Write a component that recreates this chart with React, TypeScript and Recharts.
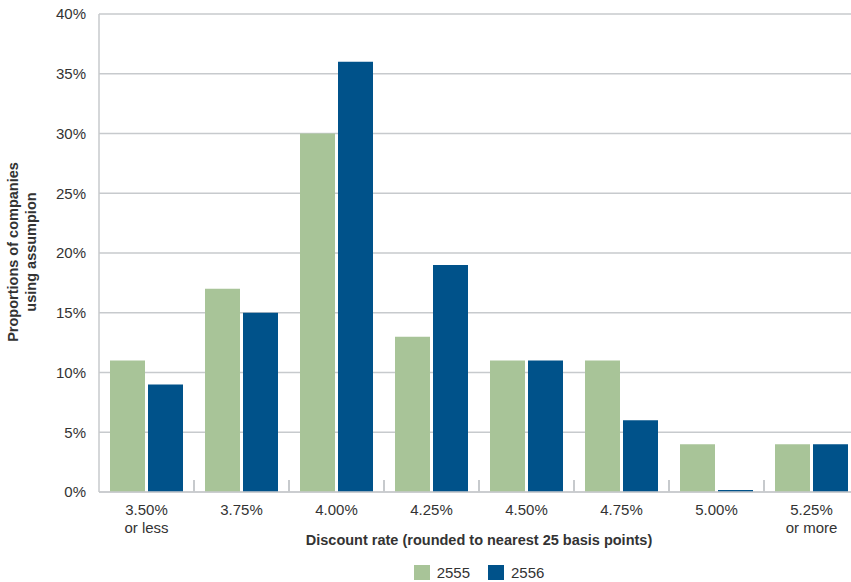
import React from 'react';
import { BarChart, Bar, XAxis, YAxis, CartesianGrid, Legend } from 'recharts';

const categories = ['3.50%\nor less', '3.75%', '4.00%', '4.25%', '4.50%', '4.75%', '5.00%', '5.25%\nor more'];
const values2555 = [11, 17, 30, 13, 11, 11, 4, 4];
const values2556 = [9, 15, 36, 19, 11, 6, 0, 4];
const yTicks = [0, 5, 10, 15, 20, 25, 30, 35, 40];
const seriesNames = ['2555', '2556'];

const data = categories.map((c, i) => ({ cat: c, s2555: values2555[i], s2556: values2556[i] }));

const FONT = '"Liberation Sans", Arial, Helvetica, sans-serif';
const TEXT = '#333333';
const GREEN = '#a8c498';
const BLUE = '#00528a';
const GRID = '#c7cacd';

const XTick = (props: any) => {
  const { x, y, payload, index } = props;
  const lines = String(payload.value).split('\n');
  const half = typeof payload.offset === 'number' && payload.offset > 0 ? payload.offset : 47.5;
  const isLast = index === categories.length - 1;
  return (
    <g>
      {!isLast && (
        <line x1={x + half} x2={x + half} y1={y} y2={y - 12} stroke={GRID} strokeWidth={2} />
      )}
      <g transform={`translate(${x},${y})`}>
        {lines.map((l: string, i: number) => (
          <text key={i} x={0} y={22.5 + i * 18} textAnchor="middle" fontSize={15} fill={TEXT} fontFamily={FONT}>
            {l}
          </text>
        ))}
      </g>
    </g>
  );
};

const XTitle = (props: any) => {
  const vb = props.viewBox || { x: 99, y: 492, width: 760, height: 60 };
  return (
    <text x={vb.x + vb.width / 2} y={vb.y + 53} textAnchor="middle" fontSize={14.5} fontWeight="bold" fill={TEXT} fontFamily={FONT}>
      Discount rate (rounded to nearest 25 basis points)
    </text>
  );
};

const YTitle = () => (
  <g>
    <text x={18} y={252} transform="rotate(-90, 18, 252)" textAnchor="middle" fontSize={14.5} fontWeight="bold" fill={TEXT} fontFamily={FONT}>
      Proportions of companies
    </text>
    <text x={36} y={252} transform="rotate(-90, 36, 252)" textAnchor="middle" fontSize={14.5} fontWeight="bold" fill={TEXT} fontFamily={FONT}>
      using assumpion
    </text>
  </g>
);

const LegendContent = (props: any) => {
  const payload = props.payload || [];
  return (
    <div style={{ display: 'flex', justifyContent: 'center', alignItems: 'center', height: 30, paddingTop: 11, boxSizing: 'border-box', fontFamily: FONT }}>
      {payload.map((p: any, i: number) => (
        <div key={i} style={{ display: 'flex', alignItems: 'center', marginLeft: i === 0 ? 0 : 18 }}>
          <div style={{ width: 16, height: 15, background: p.color, marginRight: 7 }} />
          <span style={{ fontSize: 15, color: TEXT, lineHeight: '16px' }}>{p.value}</span>
        </div>
      ))}
    </div>
  );
};

export default function App() {
  return (
    <div style={{ position: 'absolute', left: 0, top: 0, width: 851, height: 582, overflow: 'hidden', background: '#fff', fontFamily: FONT }}>
      <BarChart
        width={860}
        height={582}
        data={data}
        margin={{ top: 14, right: 1, left: 0, bottom: 0 }}
        barCategoryGap={11}
        barGap={3}
      >
        <CartesianGrid vertical={false} stroke={GRID} strokeWidth={1.5} />
        <XAxis
          dataKey="cat"
          height={60}
          interval={0}
          tickLine={false}
          tickSize={0}
          tickMargin={0}
          axisLine={{ stroke: GRID, strokeWidth: 1.5 }}
          tick={<XTick />}
          label={<XTitle />}
        />
        <YAxis
          width={99}
          domain={[0, 40]}
          ticks={yTicks}
          interval={0}
          tickFormatter={(v: number) => `${v}%`}
          tickLine={false}
          tickSize={0}
          tickMargin={13}
          axisLine={{ stroke: GRID, strokeWidth: 1.5 }}
          tick={{ fontSize: 15, fill: TEXT, fontFamily: FONT }}
          label={<YTitle />}
        />
        <Legend
          verticalAlign="bottom"
          content={<LegendContent />}
          wrapperStyle={{ left: 99, width: 760 }}
        />
        <Bar dataKey="s2555" name={seriesNames[0]} fill={GREEN} isAnimationActive={false} />
        <Bar dataKey="s2556" name={seriesNames[1]} fill={BLUE} isAnimationActive={false} minPointSize={2} />
      </BarChart>
    </div>
  );
}
